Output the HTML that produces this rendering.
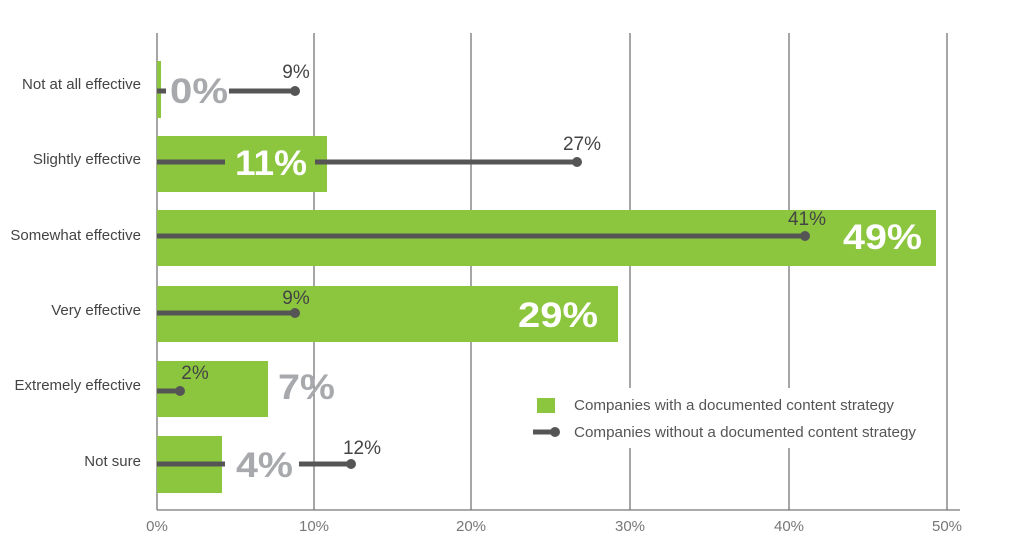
<!DOCTYPE html>
<html><head><style>body{margin:0;background:#fff}svg{display:block}</style></head>
<body>
<svg width="1024" height="551" viewBox="0 0 1024 551" xmlns="http://www.w3.org/2000/svg" font-family="Liberation Sans, sans-serif">
<g stroke="#777" stroke-width="1.3">
<line x1="157" y1="33" x2="157" y2="510"/>
<line x1="314" y1="33" x2="314" y2="510"/>
<line x1="471" y1="33" x2="471" y2="510"/>
<line x1="630" y1="33" x2="630" y2="510"/>
<line x1="789" y1="33" x2="789" y2="510"/>
<line x1="947" y1="33" x2="947" y2="510"/>
<line x1="157" y1="510" x2="960" y2="510"/>
</g>
<rect x="520" y="388" width="420" height="60" fill="#fff"/>
<g fill="#8cc63f">
<rect x="157" y="61" width="4" height="57"/>
<rect x="157" y="136" width="170" height="56"/>
<rect x="157" y="210" width="779" height="56"/>
<rect x="157" y="286" width="461" height="56"/>
<rect x="157" y="361" width="111" height="56"/>
<rect x="157" y="436" width="65" height="57"/>
</g>
<g stroke="#555" stroke-width="5">
<line x1="157" y1="91" x2="166" y2="91"/><line x1="229" y1="91" x2="295" y2="91"/>
<line x1="157" y1="162" x2="225" y2="162"/><line x1="315" y1="162" x2="577" y2="162"/>
<line x1="157" y1="236" x2="805" y2="236"/>
<line x1="157" y1="313" x2="295" y2="313"/>
<line x1="157" y1="391" x2="180" y2="391"/>
<line x1="157" y1="464" x2="225" y2="464"/><line x1="299" y1="464" x2="351" y2="464"/>
<line x1="533" y1="432" x2="552" y2="432"/>
</g>
<g fill="#555">
<circle cx="295" cy="91" r="5"/><circle cx="577" cy="162" r="5"/><circle cx="805" cy="236" r="5"/>
<circle cx="295" cy="313" r="5"/><circle cx="180" cy="391" r="5"/><circle cx="351" cy="464" r="5"/>
<circle cx="555" cy="432" r="5"/>
</g>
<rect x="537" y="398" width="18" height="15" fill="#8cc63f"/>
<g font-size="15" fill="#444" text-anchor="end">
<text x="141" y="89">Not at all effective</text>
<text x="141" y="164">Slightly effective</text>
<text x="141" y="240">Somewhat effective</text>
<text x="141" y="315">Very effective</text>
<text x="141" y="390">Extremely effective</text>
<text x="141" y="466">Not sure</text>
</g>
<g font-size="35" font-weight="bold" lengthAdjust="spacingAndGlyphs">
<text x="170" y="103" fill="#a7a9ac" textLength="58" lengthAdjust="spacingAndGlyphs">0%</text>
<text x="235" y="175" fill="#fff" textLength="72" lengthAdjust="spacingAndGlyphs">11%</text>
<text x="843" y="249" fill="#fff" textLength="79" lengthAdjust="spacingAndGlyphs">49%</text>
<text x="518" y="327" fill="#fff" textLength="80" lengthAdjust="spacingAndGlyphs">29%</text>
<text x="278" y="399" fill="#a7a9ac" textLength="57" lengthAdjust="spacingAndGlyphs">7%</text>
<text x="236" y="477" fill="#a7a9ac" textLength="57" lengthAdjust="spacingAndGlyphs">4%</text>
</g>
<g font-size="19" fill="#444" text-anchor="middle">
<text x="296" y="78">9%</text>
<text x="582" y="150">27%</text>
<text x="807" y="225">41%</text>
<text x="296" y="304">9%</text>
<text x="195" y="379">2%</text>
<text x="362" y="454">12%</text>
</g>
<g font-size="15" fill="#555">
<text x="574" y="410" textLength="320" lengthAdjust="spacingAndGlyphs">Companies with a documented content strategy</text>
<text x="574" y="437" textLength="342" lengthAdjust="spacingAndGlyphs">Companies without a documented content strategy</text>
</g>
<g font-size="15" fill="#777" text-anchor="middle">
<text x="157" y="531">0%</text>
<text x="314" y="531">10%</text>
<text x="471" y="531">20%</text>
<text x="630" y="531">30%</text>
<text x="789" y="531">40%</text>
<text x="947" y="531">50%</text>
</g>
</svg>
</body></html>
